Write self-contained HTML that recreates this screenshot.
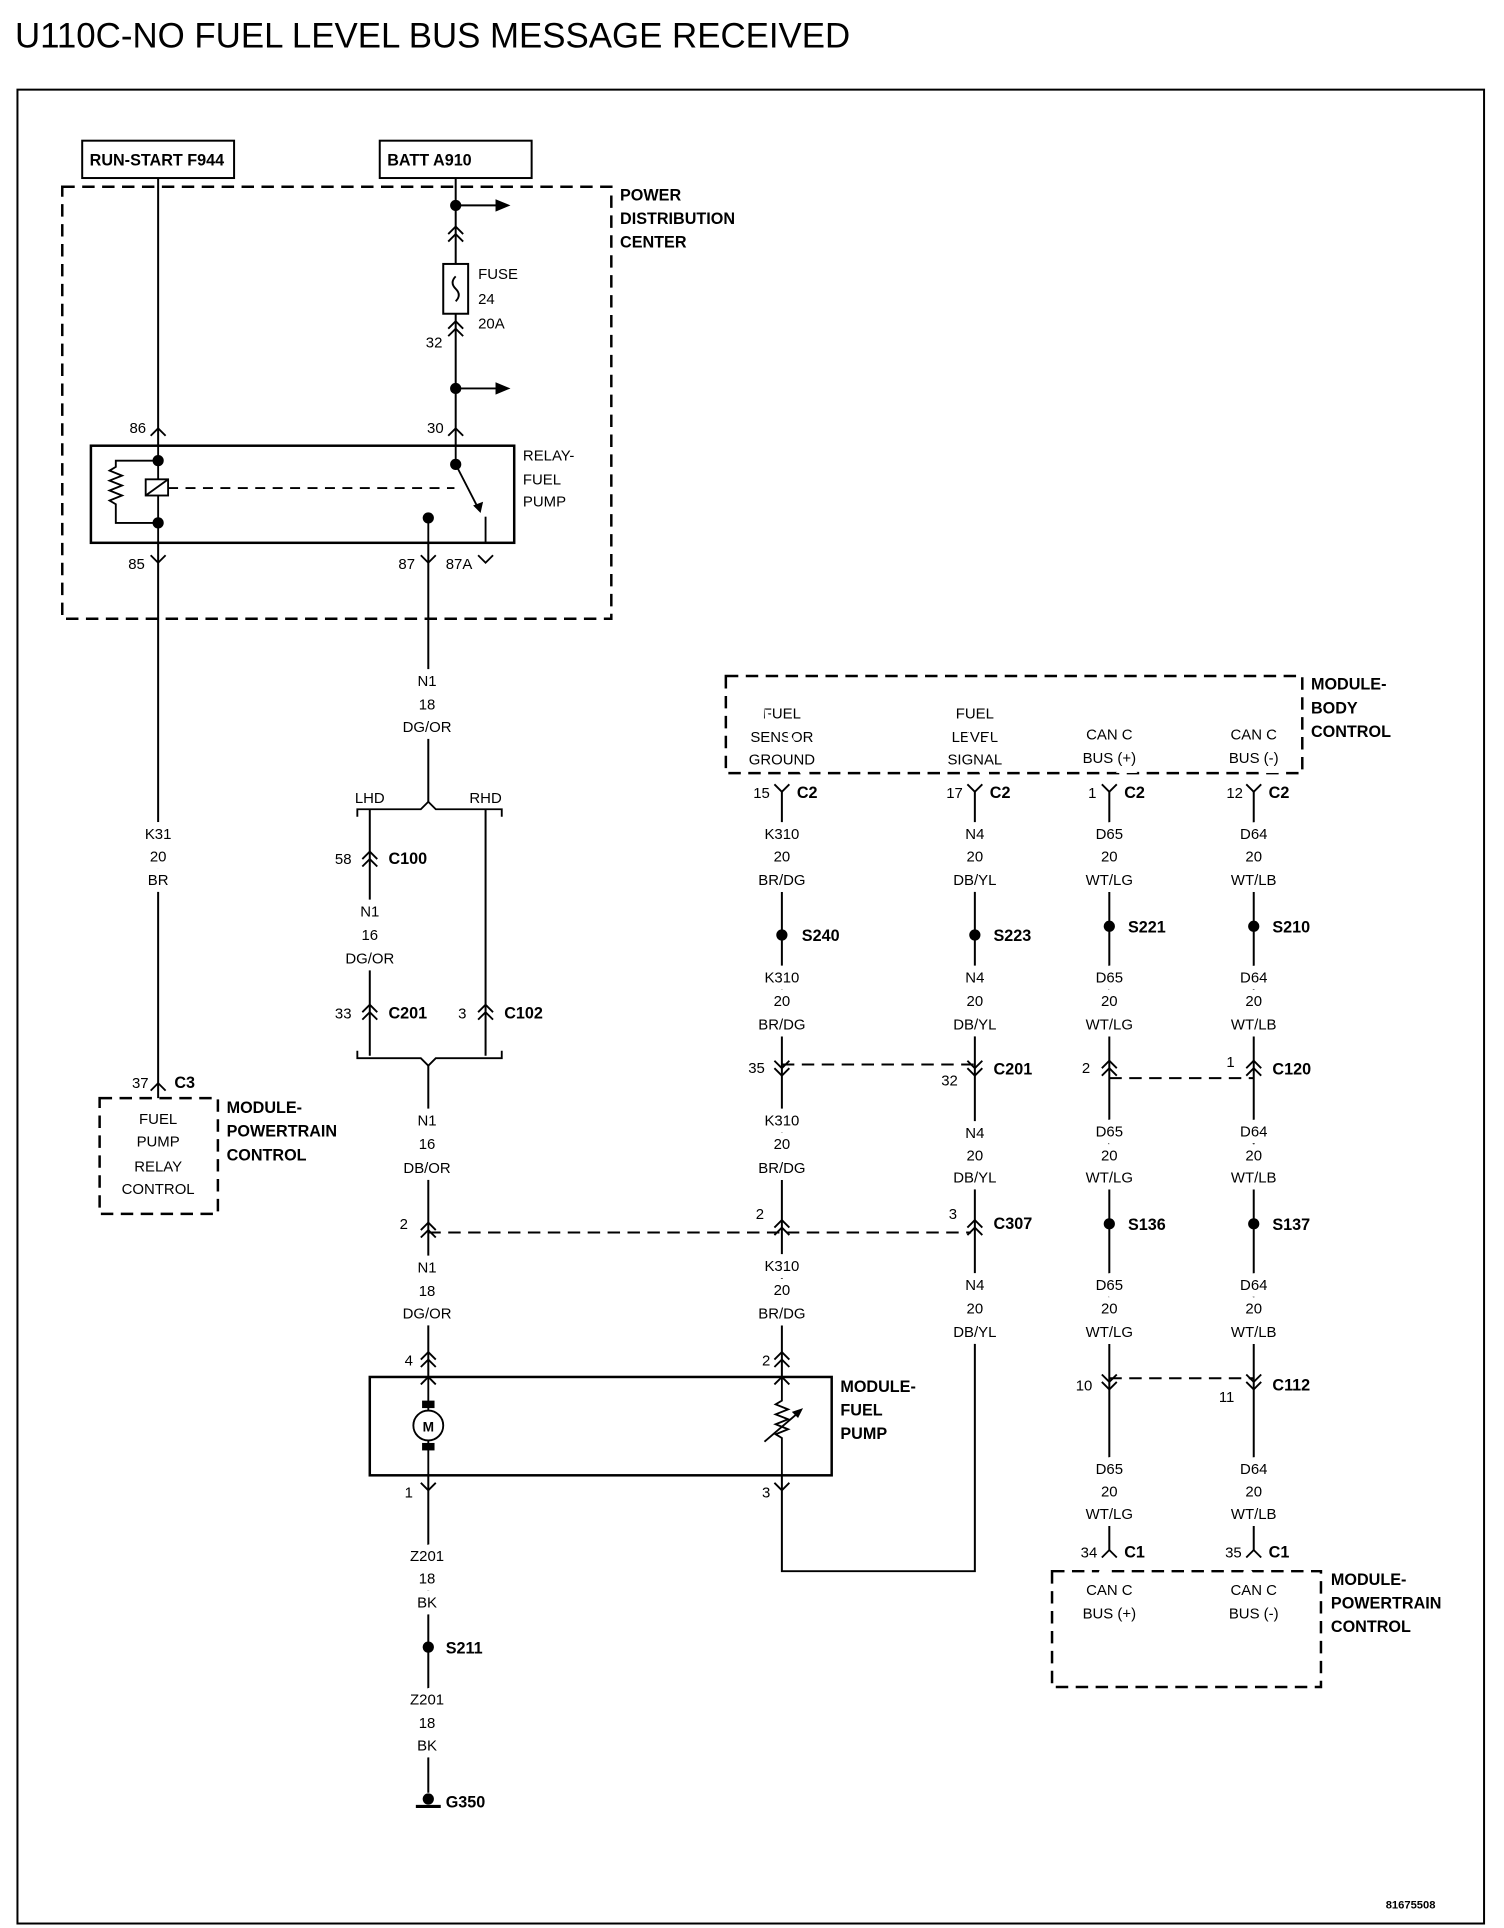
<!DOCTYPE html>
<html><head><meta charset="utf-8"><style>
html,body{margin:0;padding:0;background:#fff}
svg{display:block}
text{font-family:"Liberation Sans",sans-serif;fill:#000}
.w{font-size:12px;text-anchor:middle;paint-order:stroke;stroke:#fff;stroke-width:11px;stroke-linejoin:miter}
.s{font-size:12px}
.b{font-size:13px;font-weight:bold}
.bm{font-size:13px;font-weight:bold;text-anchor:middle}
.e{fill:none;stroke:#000;stroke-width:1.6}
.d{fill:none;stroke:#000;stroke-width:2;stroke-dasharray:10,6}
.t{fill:none;stroke:#000;stroke-width:1.5}
</style></head><body>
<svg width="1504" height="1928" viewBox="0 0 1208 1548.6" xmlns="http://www.w3.org/2000/svg">
<defs>
<g id="up"><path class="t" d="M-6 6 L0 0 L6 6 M-6 12 L0 6 L6 12"/></g>
<g id="dn"><path class="t" d="M-6 -6 L0 0 L6 -6"/></g>
<g id="dot"><circle r="4.5" fill="#000"/></g>
</defs>
<text x="12" y="38" style="font-size:28px">U110C-NO FUEL LEVEL BUS MESSAGE RECEIVED</text>
<rect x="14" y="72" width="1178" height="1473" class="e"/>

<rect x="66" y="113" width="122" height="30" class="e"/>
<text x="72" y="133" class="b">RUN-START F944</text>
<rect x="305" y="113" width="122" height="30" class="e"/>
<text x="311" y="133" class="b">BATT A910</text>

<rect x="50" y="150" width="441" height="347" class="d"/>
<text x="498" y="161" class="b">POWER</text>
<text x="498" y="180" class="b">DISTRIBUTION</text>
<text x="498" y="199" class="b">CENTER</text>

<line x1="127" y1="143" x2="127" y2="358" class="e"/>
<path class="t" d="M121 350 L127 344 L133 350"/>
<text x="104" y="348" class="s">86</text>

<line x1="366" y1="143" x2="366" y2="212" class="e"/>
<use href="#dot" x="366" y="165"/>
<line x1="366" y1="165" x2="400" y2="165" class="e"/>
<path d="M398 160 L410 165 L398 170Z"/>
<use href="#up" x="366" y="182"/>
<rect x="356" y="212" width="20" height="40" class="e"/>
<path class="t" d="M366 222 q-5 5 0 10 q5 5 0 10"/>
<text x="384" y="224" class="s">FUSE</text>
<text x="384" y="244" class="s">24</text>
<text x="384" y="264" class="s">20A</text>
<line x1="366" y1="252" x2="366" y2="358" class="e"/>
<use href="#up" x="366" y="258"/>
<text x="342" y="279" class="s">32</text>
<use href="#dot" x="366" y="312"/>
<line x1="366" y1="312" x2="400" y2="312" class="e"/>
<path d="M398 307 L410 312 L398 317Z"/>
<path class="t" d="M360 350 L366 344 L372 350"/>
<text x="343" y="348" class="s">30</text>

<rect x="73" y="358" width="340" height="78" class="e" style="stroke-width:2"/>
<text x="420" y="370" class="s">RELAY-</text>
<text x="420" y="389" class="s">FUEL</text>
<text x="420" y="407" class="s">PUMP</text>
<path class="t" d="M127 358 V370 H93 V375 l-5 3 l10 4 l-10 4 l10 4 l-10 4 l10 4 l-10 4 l5 3 V420 H127 V436"/>
<use href="#dot" x="127" y="370"/>
<use href="#dot" x="127" y="420"/>
<rect x="117" y="385" width="18" height="13" class="t"/>
<line x1="117" y1="398" x2="135" y2="385" class="t"/>
<line x1="127" y1="370" x2="127" y2="385" class="t"/>
<line x1="127" y1="398" x2="127" y2="420" class="t"/>
<line x1="135" y1="392" x2="365" y2="392" class="t" style="stroke-dasharray:8,6"/>
<line x1="366" y1="358" x2="366" y2="372" class="t"/>
<use href="#dot" x="366" y="373"/>
<line x1="366" y1="373" x2="385" y2="410" class="t"/>
<path d="M380 406 L386 412 L388 403Z"/>
<line x1="390" y1="415" x2="390" y2="436" class="t"/>
<use href="#dot" x="344" y="416"/>
<line x1="344" y1="416" x2="344" y2="436" class="t"/>
<path class="t" d="M121 446 L127 452 L133 446 M338 446 L344 452 L350 446 M384 446 L390 452 L396 446"/>
<text x="103" y="457" class="s">85</text>
<text x="320" y="457" class="s">87</text>
<text x="358" y="457" class="s">87A</text>

<line x1="127" y1="436" x2="127" y2="882" class="e"/>
<text x="127" y="674" class="w">K31</text>
<text x="127" y="692" class="w">20</text>
<text x="127" y="711" class="w">BR</text>
<path class="t" d="M121 876 L127 870 L133 876"/>
<text x="106" y="874" class="s">37</text>
<text x="140" y="874" class="b">C3</text>
<rect x="80" y="882" width="95" height="93" class="d"/>
<text x="127" y="903" class="s" text-anchor="middle">FUEL</text>
<text x="127" y="921" class="s" text-anchor="middle">PUMP</text>
<text x="127" y="941" class="s" text-anchor="middle">RELAY</text>
<text x="127" y="959" class="s" text-anchor="middle">CONTROL</text>
<text x="182" y="894" class="b">MODULE-</text>
<text x="182" y="913" class="b">POWERTRAIN</text>
<text x="182" y="932" class="b">CONTROL</text>

<line x1="344" y1="436" x2="344" y2="645" class="e"/>
<text x="343" y="551" class="w">N1</text>
<text x="343" y="570" class="w">18</text>
<text x="343" y="588" class="w">DG/OR</text>
<path class="t" d="M287 656 V650 H338 L344 644 L350 650 H403 V656"/>
<text x="297" y="645" class="s" text-anchor="middle">LHD</text>
<text x="390" y="645" class="s" text-anchor="middle">RHD</text>
<line x1="297" y1="650" x2="297" y2="848" class="e"/>
<line x1="390" y1="650" x2="390" y2="848" class="e"/>
<use href="#up" x="297" y="684"/>
<text x="269" y="694" class="s">58</text>
<text x="312" y="694" class="b">C100</text>
<text x="297" y="736" class="w">N1</text>
<text x="297" y="755" class="w">16</text>
<text x="297" y="774" class="w">DG/OR</text>
<path class="t" d="M291 813 L297 807 L303 813 M291 819 L297 813 L303 819"/>
<text x="269" y="818" class="s">33</text>
<text x="312" y="818" class="b">C201</text>
<path class="t" d="M384 813 L390 807 L396 813 M384 819 L390 813 L396 819"/>
<text x="368" y="818" class="s">3</text>
<text x="405" y="818" class="b">C102</text>
<path class="t" d="M287 844 V850 H338 L344 856 L350 850 H403 V844"/>
<line x1="344" y1="856" x2="344" y2="1106" class="e"/>
<text x="343" y="904" class="w">N1</text>
<text x="343" y="923" class="w">16</text>
<text x="343" y="942" class="w">DB/OR</text>
<use href="#up" x="344" y="982"/>
<text x="321" y="987" class="s">2</text>
<line x1="344" y1="990" x2="780" y2="990" class="d" style="stroke-width:1.6"/>
<text x="343" y="1022" class="w">N1</text>
<text x="343" y="1041" class="w">18</text>
<text x="343" y="1059" class="w">DG/OR</text>
<use href="#up" x="344" y="1086"/>
<text x="325" y="1097" class="s">4</text>

<rect x="297" y="1106" width="371" height="79" class="e" style="stroke-width:2"/>
<text x="675" y="1118" class="b">MODULE-</text>
<text x="675" y="1137" class="b">FUEL</text>
<text x="675" y="1156" class="b">PUMP</text>
<path class="t" d="M338 1112 L344 1106 L350 1112"/>
<line x1="344" y1="1106" x2="344" y2="1185" class="t"/>
<rect x="339" y="1125" width="10" height="6" fill="#000"/>
<rect x="339" y="1159" width="10" height="6" fill="#000"/>
<circle cx="344" cy="1145" r="12" fill="#fff" stroke="#000" stroke-width="1.5"/>
<text x="344" y="1150" style="font-size:11px;font-weight:bold;text-anchor:middle">M</text>
<path class="t" d="M622 1112 L628 1106 L634 1112"/>
<path class="t" d="M628 1106 V1125 l-5 3 l10 4 l-10 4 l10 4 l-10 4 l10 4 l-10 4 l5 3 V1185"/>
<line x1="614" y1="1158" x2="642" y2="1134" class="t"/>
<path d="M636 1134 L645 1131 L641 1139Z"/>
<path class="t" d="M338 1191 L344 1197 L350 1191 M622 1191 L628 1197 L634 1191"/>
<text x="325" y="1203" class="s">1</text>
<text x="612" y="1203" class="s">3</text>
<line x1="344" y1="1185" x2="344" y2="1440" class="e"/>
<text x="343" y="1254" class="w">Z201</text>
<text x="343" y="1272" class="w">18</text>
<text x="343" y="1291" class="w">BK</text>
<use href="#dot" x="344" y="1323"/>
<text x="358" y="1328" class="b">S211</text>
<text x="343" y="1369" class="w">Z201</text>
<text x="343" y="1388" class="w">18</text>
<text x="343" y="1406" class="w">BK</text>
<use href="#dot" x="344" y="1445"/>
<line x1="334" y1="1451" x2="354" y2="1451" class="e" style="stroke-width:2.5"/>
<text x="358" y="1452" class="b">G350</text>

<rect x="583" y="543" width="463" height="78" class="d"/>
<text x="1053" y="554" class="b">MODULE-</text>
<text x="1053" y="573" class="b">BODY</text>
<text x="1053" y="592" class="b">CONTROL</text>
<text x="628" y="577" class="w">FUEL</text>
<text x="628" y="596" class="w">SENSOR</text>
<text x="628" y="614" class="w">GROUND</text>
<text x="783" y="577" class="w">FUEL</text>
<text x="783" y="596" class="w">LEVEL</text>
<text x="783" y="614" class="w">SIGNAL</text>
<text x="891" y="594" class="w">CAN C</text>
<text x="891" y="613" class="w">BUS (+)</text>
<text x="1007" y="594" class="w">CAN C</text>
<text x="1007" y="613" class="w">BUS (-)</text>

<line x1="628" y1="636" x2="628" y2="1106" class="e"/>
<path class="t" d="M622 630 L628 636 L634 630"/>
<text x="605" y="641" class="s">15</text><text x="640" y="641" class="b">C2</text>
<text x="628" y="674" class="w">K310</text><text x="628" y="692" class="w">20</text><text x="628" y="711" class="w">BR/DG</text>
<use href="#dot" x="628" y="751"/><text x="644" y="756" class="b">S240</text>
<text x="628" y="789" class="w">K310</text><text x="628" y="808" class="w">20</text><text x="628" y="827" class="w">BR/DG</text>
<path class="t" d="M622 852 L628 858 L634 852 M622 858 L628 864 L634 858"/>
<text x="601" y="862" class="s">35</text>
<line x1="628" y1="855" x2="783" y2="855" class="d" style="stroke-width:1.6"/>
<text x="628" y="904" class="w">K310</text><text x="628" y="923" class="w">20</text><text x="628" y="942" class="w">BR/DG</text>
<use href="#up" x="628" y="980"/><text x="607" y="979" class="s">2</text>
<text x="628" y="1021" class="w">K310</text><text x="628" y="1040" class="w">20</text><text x="628" y="1059" class="w">BR/DG</text>
<use href="#up" x="628" y="1086"/><text x="612" y="1097" class="s">2</text>
<path class="e" d="M628 1185 V1262 H783 V1070"/>

<line x1="783" y1="636" x2="783" y2="1075" class="e"/>
<path class="t" d="M777 630 L783 636 L789 630"/>
<text x="760" y="641" class="s">17</text><text x="795" y="641" class="b">C2</text>
<text x="783" y="674" class="w">N4</text><text x="783" y="692" class="w">20</text><text x="783" y="711" class="w">DB/YL</text>
<use href="#dot" x="783" y="751"/><text x="798" y="756" class="b">S223</text>
<text x="783" y="789" class="w">N4</text><text x="783" y="808" class="w">20</text><text x="783" y="827" class="w">DB/YL</text>
<path class="t" d="M777 852 L783 858 L789 852 M777 858 L783 864 L789 858"/>
<text x="756" y="872" class="s">32</text><text x="798" y="863" class="b">C201</text>
<text x="783" y="914" class="w">N4</text><text x="783" y="932" class="w">20</text><text x="783" y="950" class="w">DB/YL</text>
<use href="#up" x="783" y="980"/><text x="762" y="979" class="s">3</text><text x="798" y="987" class="b">C307</text>
<text x="783" y="1036" class="w">N4</text><text x="783" y="1055" class="w">20</text><text x="783" y="1074" class="w">DB/YL</text>

<line x1="891" y1="636" x2="891" y2="1245" class="e"/>
<path class="t" d="M885 630 L891 636 L897 630"/>
<text x="874" y="641" class="s">1</text><text x="903" y="641" class="b">C2</text>
<text x="891" y="674" class="w">D65</text><text x="891" y="692" class="w">20</text><text x="891" y="711" class="w">WT/LG</text>
<use href="#dot" x="891" y="744"/><text x="906" y="749" class="b">S221</text>
<text x="891" y="789" class="w">D65</text><text x="891" y="808" class="w">20</text><text x="891" y="827" class="w">WT/LG</text>
<use href="#up" x="891" y="852"/><text x="869" y="862" class="s">2</text>
<line x1="891" y1="866" x2="1007" y2="866" class="d" style="stroke-width:1.6"/>
<text x="891" y="913" class="w">D65</text><text x="891" y="932" class="w">20</text><text x="891" y="950" class="w">WT/LG</text>
<use href="#dot" x="891" y="983"/><text x="906" y="988" class="b">S136</text>
<text x="891" y="1036" class="w">D65</text><text x="891" y="1055" class="w">20</text><text x="891" y="1074" class="w">WT/LG</text>
<path class="t" d="M885 1104 L891 1110 L897 1104 M885 1110 L891 1116 L897 1110"/>
<text x="864" y="1117" class="s">10</text>
<line x1="891" y1="1107" x2="1007" y2="1107" class="d" style="stroke-width:1.6"/>
<text x="891" y="1184" class="w">D65</text><text x="891" y="1202" class="w">20</text><text x="891" y="1220" class="w">WT/LG</text>
<path class="t" d="M885 1251 L891 1245 L897 1251"/>
<text x="868" y="1251" class="s">34</text><text x="903" y="1251" class="b">C1</text>

<line x1="1007" y1="636" x2="1007" y2="1245" class="e"/>
<path class="t" d="M1001 630 L1007 636 L1013 630"/>
<text x="985" y="641" class="s">12</text><text x="1019" y="641" class="b">C2</text>
<text x="1007" y="674" class="w">D64</text><text x="1007" y="692" class="w">20</text><text x="1007" y="711" class="w">WT/LB</text>
<use href="#dot" x="1007" y="744"/><text x="1022" y="749" class="b">S210</text>
<text x="1007" y="789" class="w">D64</text><text x="1007" y="808" class="w">20</text><text x="1007" y="827" class="w">WT/LB</text>
<use href="#up" x="1007" y="852"/><text x="985" y="857" class="s">1</text><text x="1022" y="863" class="b">C120</text>
<text x="1007" y="913" class="w">D64</text><text x="1007" y="932" class="w">20</text><text x="1007" y="950" class="w">WT/LB</text>
<use href="#dot" x="1007" y="983"/><text x="1022" y="988" class="b">S137</text>
<text x="1007" y="1036" class="w">D64</text><text x="1007" y="1055" class="w">20</text><text x="1007" y="1074" class="w">WT/LB</text>
<path class="t" d="M1001 1104 L1007 1110 L1013 1104 M1001 1110 L1007 1116 L1013 1110"/>
<text x="979" y="1126" class="s">11</text><text x="1022" y="1117" class="b">C112</text>
<text x="1007" y="1184" class="w">D64</text><text x="1007" y="1202" class="w">20</text><text x="1007" y="1220" class="w">WT/LB</text>
<path class="t" d="M1001 1251 L1007 1245 L1013 1251"/>
<text x="984" y="1251" class="s">35</text><text x="1019" y="1251" class="b">C1</text>

<rect x="845" y="1262" width="216" height="93" class="d"/>
<text x="891" y="1281" class="w">CAN C</text><text x="891" y="1300" class="w">BUS (+)</text>
<text x="1007" y="1281" class="w">CAN C</text><text x="1007" y="1300" class="w">BUS (-)</text>
<text x="1069" y="1273" class="b">MODULE-</text>
<text x="1069" y="1292" class="b">POWERTRAIN</text>
<text x="1069" y="1311" class="b">CONTROL</text>

<text x="1113" y="1533" style="font-size:9px;font-weight:bold">81675508</text>
</svg>
</body></html>
